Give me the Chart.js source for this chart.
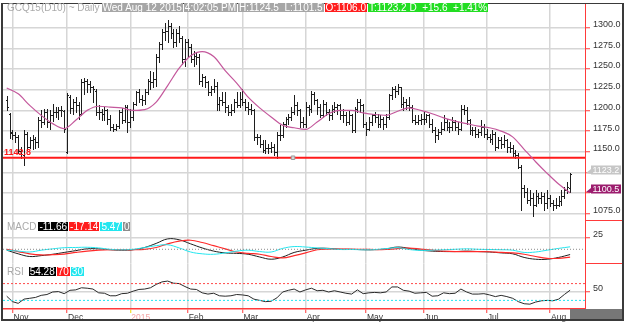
<!DOCTYPE html>
<html>
<head>
<meta charset="utf-8">
<title>GCQ15 Daily</title>
<script src="https://cdn.jsdelivr.net/npm/chart.js@4.4.1/dist/chart.umd.min.js"></script>
<style>
  body { margin: 0; background: #fff; }
  #board { position: relative; width: 627px; height: 323px; background: #fff; overflow: hidden;
           font-family: "Liberation Sans", Arial, sans-serif; }
  #board canvas { position: absolute; left: 0; }
  .frame { position: absolute; left: 1px; top: 3px; width: 623px; height: 318px; box-sizing: border-box;
           border: 2px solid #3a3a3a; border-top-width: 1px; pointer-events: none; }
  .scroll { position: absolute; left: 570px; top: 309px; width: 53px; height: 11px; background: #777; }
  .row { position: absolute; display: flex; gap: 1px; font-size: 10px; line-height: 9px; white-space: pre; }
  .row span { padding: 0 1px; height: 9px; color: #fff; }
  .row span.muted { color: #aaa; padding: 0; margin-right: 1px; }
  .gray { background: #a6a6a6; }
  .red { background: #ff1c1c; }
  .green { background: #22dd22; }
  .black { background: #000; }
  .cyan { background: #22e6ef; }
  .zero { background: #8c8c8c; }
  .support { position: absolute; left: 4px; top: 148px; font-size: 9px; font-weight: bold; line-height: 9px; color: #ff1a1a; }
</style>
</head>
<body>
<div id="board">
  <canvas id="priceChart" width="627" height="221" style="top:0"></canvas>
  <canvas id="macdChart" width="627" height="44" style="top:220px"></canvas>
  <canvas id="rsiChart" width="627" height="60" style="top:263px"></canvas>
  <div class="scroll"></div>
  <div class="frame"></div>

  <div class="row" style="left:7px; top:3px;">
    <span class="muted">GCQ15(D10) ~ Daily</span>
    <span class="gray">Wed Aug 12 2015</span>
    <span class="gray">4:02:05 PM</span>
    <span class="gray" id="hdHL"></span>
    <span class="red" id="hdOpen"></span>
    <span class="green" id="hdLast"></span>
  </div>

  <div class="row" style="left:7px; top:222px;">
    <span class="muted">MACD</span>
    <span class="black" id="lgMacd"></span>
    <span class="red" id="lgSignal"></span>
    <span class="cyan" id="lgHist"></span>
    <span class="zero" id="lgZero"></span>
  </div>

  <div class="row" style="left:7px; top:267px;">
    <span class="muted" style="margin-right:4px">RSI</span>
    <span class="black" id="lgRsi"></span>
    <span class="red" id="lgUpper"></span>
    <span class="cyan" id="lgLower"></span>
  </div>

  <div class="support" id="supportLabel"></div>
</div>

<script>
// Daily bars, GCQ15, Oct 30 2014 .. Aug 12 2015 (one entry per session)
const opens = [
  1212,1196,1173,1170,1168,1151,1146,1172,1156,1164,
  1165,1162,1188,1186,1198,1186,1194,1198,1198,1200,
  1199,1150,1216,1203,1210,1207,1196,1234,1236,1232,
  1228,1224,1198,1198,1196,1200,1190,1180,1178,1181,
  1198,1188,1204,1186,1192,1208,1222,1214,1212,1222,
  1236,1234,1238,1264,1280,1295,1296,1302,1294,1282,
  1293,1288,1262,1282,1276,1262,1266,1264,1236,1240,
  1234,1222,1226,1230,1208,1212,1210,1204,1198,1200,
  1210,1206,1214,1210,1204,1202,1200,1168,1168,1160,
  1152,1154,1154,1156,1150,1170,1170,1184,1190,1192,
  1198,1206,1200,1186,1184,1204,1202,1220,1212,1204,
  1194,1208,1198,1194,1202,1204,1206,1194,1194,1186,
  1194,1176,1202,1210,1206,1184,1178,1186,1194,1192,
  1184,1190,1184,1192,1218,1226,1224,1228,1208,1210,
  1206,1204,1188,1186,1188,1190,1190,1194,1184,1176,
  1170,1174,1178,1186,1180,1180,1186,1180,1178,1202,
  1200,1188,1176,1176,1172,1174,1180,1172,1168,1166,
  1172,1156,1164,1160,1164,1156,1154,1148,1146,1132,
  1106,1102,1092,1094,1086,1096,1094,1096,1088,1094,
  1088,1086,1086,1090,1096,1104,1106
];
const highs = [
  1217,1197,1176,1174,1170,1156,1176,1174,1168,1170,
  1168,1192,1200,1202,1202,1200,1208,1204,1204,1205,
  1201,1221,1218,1214,1216,1210,1238,1239,1238,1236,
  1230,1226,1206,1202,1204,1202,1194,1184,1184,1200,
  1203,1206,1206,1202,1210,1224,1226,1218,1226,1238,
  1248,1246,1268,1282,1298,1306,1309,1305,1298,1298,
  1302,1290,1286,1286,1280,1272,1270,1268,1244,1242,
  1236,1230,1238,1234,1216,1222,1222,1206,1208,1214,
  1222,1222,1226,1214,1210,1208,1202,1172,1170,1164,
  1164,1160,1162,1160,1174,1182,1186,1192,1196,1204,
  1218,1210,1202,1192,1210,1206,1224,1222,1214,1208,
  1212,1210,1202,1206,1210,1208,1208,1202,1198,1200,
  1196,1204,1214,1214,1208,1186,1192,1196,1198,1196,
  1194,1192,1196,1220,1228,1230,1232,1228,1216,1214,
  1216,1206,1194,1194,1196,1198,1196,1196,1190,1180,
  1178,1186,1194,1190,1186,1192,1188,1186,1206,1206,
  1204,1190,1180,1180,1178,1188,1184,1178,1172,1176,
  1174,1168,1168,1170,1166,1162,1158,1152,1148,1134,
  1110,1106,1104,1100,1104,1100,1102,1100,1104,1098,
  1092,1094,1096,1104,1108,1114,1124.5
];
const lows = [
  1200,1167,1165,1162,1148,1142,1134,1152,1154,1153,
  1155,1156,1180,1183,1180,1178,1187,1192,1190,1193,
  1174,1148,1197,1196,1198,1190,1194,1220,1222,1222,
  1210,1194,1190,1188,1188,1184,1176,1175,1176,1179,
  1185,1186,1174,1180,1188,1206,1210,1206,1208,1220,
  1226,1228,1230,1258,1274,1285,1282,1288,1276,1278,
  1282,1256,1254,1266,1258,1254,1256,1232,1230,1228,
  1218,1218,1222,1200,1200,1206,1198,1194,1195,1198,
  1204,1204,1206,1200,1196,1196,1164,1160,1156,1150,
  1148,1148,1150,1146,1143,1164,1168,1180,1184,1188,
  1196,1194,1180,1180,1180,1194,1198,1208,1196,1192,
  1192,1194,1188,1190,1198,1196,1190,1186,1182,1184,
  1174,1174,1198,1198,1180,1170,1176,1182,1186,1180,
  1180,1178,1180,1190,1214,1216,1220,1204,1200,1202,
  1200,1186,1184,1184,1184,1184,1186,1180,1174,1162,
  1166,1172,1176,1176,1174,1176,1176,1172,1176,1196,
  1184,1172,1170,1168,1168,1170,1168,1166,1162,1160,
  1152,1154,1154,1156,1150,1150,1144,1142,1130,1080,
  1095,1088,1086,1072,1084,1088,1088,1080,1082,1084,
  1080,1082,1084,1086,1094,1100,1101.5
];
const closes = [
  1204,1174,1170,1168,1151,1147,1172,1156,1164,1165,
  1162,1188,1186,1198,1186,1194,1198,1198,1200,1200,
  1178,1218,1203,1210,1207,1196,1234,1236,1232,1228,
  1226,1198,1198,1196,1200,1190,1180,1178,1181,1198,
  1188,1204,1186,1192,1208,1222,1214,1212,1222,1236,
  1234,1238,1264,1280,1295,1296,1302,1294,1282,1293,
  1288,1262,1282,1276,1262,1266,1264,1236,1240,1234,
  1222,1226,1230,1208,1212,1210,1204,1198,1200,1210,
  1206,1214,1210,1204,1202,1200,1168,1168,1160,1152,
  1154,1154,1156,1150,1170,1170,1184,1190,1192,1198,
  1206,1200,1186,1184,1204,1202,1220,1212,1204,1194,
  1208,1198,1194,1202,1204,1206,1194,1194,1186,1194,
  1176,1202,1210,1206,1184,1178,1186,1194,1192,1184,
  1190,1184,1192,1218,1226,1224,1228,1208,1210,1206,
  1204,1188,1186,1188,1190,1190,1194,1184,1176,1170,
  1174,1178,1186,1180,1180,1186,1180,1178,1202,1200,
  1188,1176,1176,1172,1174,1180,1172,1168,1166,1172,
  1156,1164,1160,1164,1156,1154,1148,1146,1132,1106,
  1102,1092,1094,1086,1096,1094,1096,1088,1094,1088,
  1086,1086,1090,1096,1104,1107.6,1123.2
];

// Month boundaries (session index) and their axis labels
const monthStarts = [2, 21, 43, 63, 82, 104, 125, 145, 167, 189];
const monthLabels = ['Nov', 'Dec', '2015', 'Feb', 'Mar', 'Apr', 'May', 'Jun', 'Jul', 'Aug'];

// 20-day moving average, read every 4th session
const maStep = 4;
const maValues = [
  1227,1220,1206,1194,1184,1178,1188,1200,1205,1204,
  1203,1200,1201,1210,1230,1251,1266,1271,1265,1248,
  1233,1216,1203,1192,1182,1179,1177,1186,1196,1200,
  1200,1197,1195,1194,1199,1203,1200,1196,1191,1187,
  1184,1181,1179,1175,1168,1153,1138,1124,1111,1100.5
];

// MACD (12,26,9), every 4th session
const macdStep = 4;
const macdLine = [
  -2,-10,-16,-14,-11,-7,-3,1,1,-1,
  -2,-1,4,13,23,21,12,3,-4,-8,
  -9,-11,-17,-22,-17,-7,-2,2,2,0,
  0,-1,-1,1,5,2,-2,-4,-5,-5,
  -4,-5,-6,-8,-10,-18,-22,-22,-18,-11.66
];
const signalLine = [
  0,-5,-10,-12.5,-12,-10.5,-7,-4,-2,-1,
  -1,-1,0,4,12,18,20,15,8,1,
  -6,-9,-11,-16,-19,-14,-8,-1,0.5,0.5,
  0,0,-0.5,-0.5,1.5,2.5,0.5,-2,-4,-5,
  -5,-5,-5.5,-7,-8,-11,-16,-20,-20,-17.14
];
const histLine = [
  -2,-4,-6,-2,1,3.5,4,4.5,3,0,
  -1,0,4,8,10,3,-6,-10,-11,-8,
  -4,-2,-5,-6,2,6,5,3,1.5,-0.5,
  -0.5,-1,-0.5,1.5,3.5,-0.5,-2.5,-2,-1,0,
  1,0,-0.5,-1,-2,-7,-6,-2,2,5.47
];
const macdZero = 0;

// RSI(14), every 2nd session
const rsiStep = 2;
const rsiValues = [
  40,27,23,33,35,37,42,44,50,51,
  46,54,55,60,59,57,48,47,41,41,
  46,47,52,56,57,60,68,74,76,71,
  70,63,57,56,48,45,47,41,40,41,
  44,43,41,33,30,27,28,36,50,54,
  57,50,55,59,53,54,50,53,50,47,
  45,55,46,48,49,48,50,62,62,54,
  52,47,48,49,40,41,48,46,47,57,
  50,45,45,46,43,39,42,39,35,27,
  22,21,26,29,30,29,33,44,54.28
];
const rsiUpper = 70;
const rsiLower = 30;

const priceTicks = [1075, 1100, 1125, 1150, 1175, 1200, 1225, 1250, 1275, 1300];
const supportLevel = 1142.8;
const supportAnchor = 99.6;

// ---- styling ----
const FONT = '"Liberation Sans", Arial, sans-serif';
const gridColor = '#d6d6d6';
const axisRed = '#ff3a3a';
const barColor = '#1e1e1e';
const maColor = '#c4589c';
const xMin = -1.29;
const xMax = 201.18;
const last = closes.length - 1;

Chart.defaults.font.family = FONT;

// ---- header and legend text ----
const change = closes[last] - closes[last - 1];
document.getElementById('hdHL').textContent = 'H:' + highs[last].toFixed(1) + '  L:' + lows[last].toFixed(1);
document.getElementById('hdOpen').textContent = 'O:' + opens[last].toFixed(1);
document.getElementById('hdLast').textContent = 'T:' + closes[last].toFixed(1) + ' D  +' + change.toFixed(1) +
  '  +' + (change / closes[last - 1] * 100).toFixed(2) + '%';
document.getElementById('lgMacd').textContent = macdLine[macdLine.length - 1].toFixed(2);
document.getElementById('lgSignal').textContent = signalLine[signalLine.length - 1].toFixed(2);
document.getElementById('lgHist').textContent = histLine[histLine.length - 1].toFixed(2);
document.getElementById('lgZero').textContent = String(macdZero);
document.getElementById('lgRsi').textContent = rsiValues[rsiValues.length - 1].toFixed(2);
document.getElementById('lgUpper').textContent = String(rsiUpper);
document.getElementById('lgLower').textContent = String(rsiLower);
document.getElementById('supportLabel').textContent = supportLevel.toFixed(1);

// ---- plugins ----

// OHLC bars: high-low stem, open tick left, close tick right
const ohlcBars = {
  id: 'ohlcBars',
  beforeDatasetsDraw(chart) {
    const { ctx, scales: { x, y } } = chart;
    ctx.save();
    ctx.strokeStyle = barColor;
    ctx.lineWidth = 1;
    ctx.beginPath();
    highs.forEach((h, i) => {
      const col = Math.round(x.getPixelForValue(i));
      const yH = Math.round(y.getPixelForValue(h));
      const yL = Math.round(y.getPixelForValue(lows[i]));
      const yO = Math.round(y.getPixelForValue(opens[i])) + 0.5;
      const yC = Math.round(y.getPixelForValue(closes[i])) + 0.5;
      ctx.moveTo(col + 0.5, yH);
      ctx.lineTo(col + 0.5, yL + 1);
      ctx.moveTo(col - 1, yO);
      ctx.lineTo(col, yO);
      ctx.moveTo(col + 1, yC);
      ctx.lineTo(col + 2, yC);
    });
    ctx.stroke();
    ctx.restore();
  }
};

// red separator under each panel, inside the value-axis strip
const panelEdge = {
  id: 'panelEdge',
  afterDraw(chart) {
    const { ctx, chartArea } = chart;
    const yy = Math.floor(chartArea.bottom) + 0.5;
    ctx.save();
    ctx.strokeStyle = axisRed;
    ctx.lineWidth = 1;
    ctx.beginPath();
    ctx.moveTo(chartArea.right, yy);
    ctx.lineTo(chart.width - 3, yy);
    ctx.stroke();
    ctx.restore();
  }
};

// last price / last average tags on the price axis
const valueTags = {
  id: 'valueTags',
  afterDraw(chart) {
    const { ctx, chartArea, scales: { y } } = chart;
    const tags = [
      { value: closes[last], bg: '#c6c6c6' },
      { value: maValues[maValues.length - 1], bg: '#9c1c6e' }
    ];
    ctx.save();
    ctx.font = '9px ' + FONT;
    ctx.textBaseline = 'middle';
    tags.forEach(t => {
      const cy = Math.round(y.getPixelForValue(t.value) - 3.5);
      const left = chartArea.right + 6;
      ctx.fillStyle = t.bg;
      ctx.beginPath();
      ctx.moveTo(chartArea.right + 1, cy + 3);
      ctx.lineTo(left, cy - 1);
      ctx.lineTo(left, cy + 4);
      ctx.closePath();
      ctx.fill();
      ctx.fillRect(left, cy - 4.5, 30, 9);
      ctx.fillStyle = '#fff';
      ctx.fillText(t.value.toFixed(1), left + 1.5, cy + 0.5);
    });
    ctx.restore();
  }
};

// ---- axes ----
function monthAxis(showLabels) {
  return {
    type: 'linear',
    min: xMin,
    max: xMax,
    afterBuildTicks: s => { s.ticks = monthStarts.map(v => ({ value: v })); },
    afterFit: s => { s.height = showLabels ? 14 : 0; s.paddingLeft = 0; s.paddingRight = 0; },
    grid: {
      color: gridColor,
      lineWidth: 1.5,
      drawTicks: showLabels,
      tickLength: 4,
      tickWidth: 1,
      tickColor: c => (c.tick && c.tick.value === 43 ? '#f0d800' : axisRed)
    },
    border: { display: showLabels, color: axisRed, width: 1.5 },
    ticks: {
      display: showLabels,
      autoSkip: false,
      maxRotation: 0,
      minRotation: 0,
      align: 'start',
      labelOffset: 1,
      padding: 0,
      font: { size: 8.5 },
      color: c => (c.tick && c.tick.value === 43 ? '#f4a4a4' : '#3a3a3a'),
      callback: v => monthLabels[monthStarts.indexOf(v)]
    }
  };
}

function valueAxis(min, max, ticks, fmt) {
  return {
    position: 'right',
    min,
    max,
    afterBuildTicks: s => { s.ticks = ticks.map(v => ({ value: v })); },
    afterFit: s => { s.width = 38; s.paddingTop = 0; s.paddingBottom = 0; },
    grid: { color: gridColor, lineWidth: 1.5, tickLength: 5, tickWidth: 1, tickColor: axisRed },
    border: { display: true, color: axisRed, width: 1 },
    ticks: { color: '#333', padding: 3, labelOffset: -3, font: { size: 9 }, callback: fmt }
  };
}

function baseOptions(padding, x, y) {
  return {
    responsive: false,
    animation: false,
    devicePixelRatio: 1,
    events: [],
    layout: { padding },
    plugins: { legend: { display: false }, tooltip: { enabled: false } },
    scales: { x, y }
  };
}

function flatLine(value, color, dash, width) {
  return {
    data: [{ x: xMin, y: value }, { x: xMax, y: value }],
    borderColor: color,
    borderWidth: width || 1,
    borderDash: dash || [],
    pointRadius: 0
  };
}

function stepped(values, step) {
  return values.map((v, k) => ({ x: k * step, y: v }));
}

// ---- price panel ----
new Chart(document.getElementById('priceChart'), {
  type: 'line',
  data: {
    datasets: [
      {
        data: stepped(maValues, maStep),
        borderColor: maColor,
        borderWidth: 1.2,
        pointRadius: 0,
        cubicInterpolationMode: 'monotone'
      },
      {
        data: [
          { x: xMin, y: supportLevel },
          { x: supportAnchor, y: supportLevel },
          { x: xMax, y: supportLevel }
        ],
        borderColor: '#ff1a1a',
        borderWidth: 2,
        pointStyle: 'rect',
        pointRadius: [0, 2.5, 0],
        pointBackgroundColor: '#d4d4d4',
        pointBorderColor: '#9a9a9a',
        pointBorderWidth: 1
      }
    ]
  },
  options: baseOptions(
    { left: 3, right: 4, top: 4, bottom: 1 },
    monthAxis(false),
    valueAxis(1067.6, 1328.5, priceTicks, v => v.toFixed(1))
  ),
  plugins: [ohlcBars, panelEdge, valueTags]
});

// ---- MACD panel ----
new Chart(document.getElementById('macdChart'), {
  type: 'line',
  data: {
    datasets: [
      flatLine(macdZero, '#8a8a8a', [1, 2]),
      { data: stepped(histLine, macdStep), borderColor: '#22e6ef', borderWidth: 1, pointRadius: 0, tension: 0.4 },
      { data: stepped(signalLine, macdStep), borderColor: '#ff2a2a', borderWidth: 1.2, pointRadius: 0, tension: 0.4 },
      { data: stepped(macdLine, macdStep), borderColor: '#1e1e1e', borderWidth: 1, pointRadius: 0, tension: 0.4 }
    ]
  },
  options: baseOptions(
    { left: 3, right: 4, top: 0, bottom: 0.7 },
    monthAxis(false),
    valueAxis(-31, 64.8, [25], v => String(v))
  ),
  plugins: [panelEdge]
});

// ---- RSI panel ----
new Chart(document.getElementById('rsiChart'), {
  type: 'line',
  data: {
    datasets: [
      flatLine(rsiUpper, '#ff4a4a', [2, 2]),
      flatLine(rsiLower, '#22e6ef', [2, 2]),
      { data: stepped(rsiValues, rsiStep), borderColor: '#2a2a2a', borderWidth: 1, pointRadius: 0, tension: 0 }
    ]
  },
  options: baseOptions(
    { left: 3, right: 4, top: 0.3, bottom: 0 },
    monthAxis(true),
    valueAxis(9.5, 118.3, [50], v => String(v))
  )
});
</script>
</body>
</html>
